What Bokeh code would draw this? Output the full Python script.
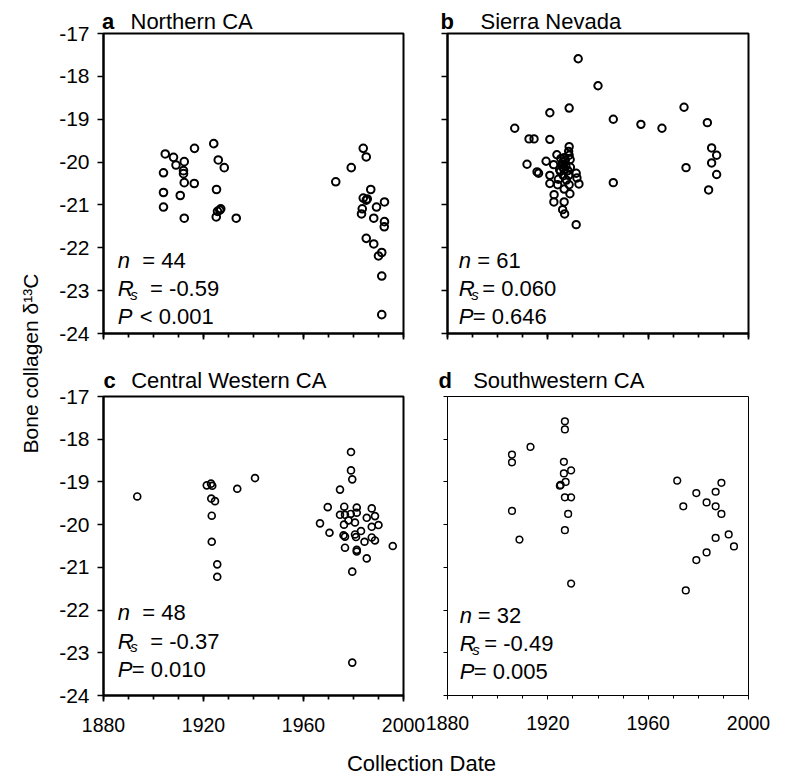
from math import pi
from bokeh.plotting import figure
from bokeh.models import (Range1d, SingleIntervalTicker, Label, PrintfTickFormatter,
                          CustomLabelingPolicy)
from bokeh.layouts import row, column
from bokeh.embed import file_html
from bokeh.resources import INLINE
from bokeh.core.properties import value

FONT = "Liberation Sans"

# ---------------- data ----------------
x_start, x_end = 1880, 2000
y_low, y_high = -24, -17

panel_letters = ["a", "b", "c", "d"]
panel_names = ["Northern CA", "Sierra Nevada", "Central Western CA", "Southwestern CA"]

stat_n = ["44", "61", "48", "32"]
stat_rs = ["-0.59", "0.060", "-0.37", "-0.49"]
stat_p_op = ["<", "=", "=", "="]
stat_p = ["0.001", "0.646", "0.010", "0.005"]

a_year = [1904.7, 1908.0, 1909.0, 1912.3, 1904.0, 1912.0, 1912.3, 1916.4, 1916.3, 1904.0,
          1910.7, 1904.0, 1912.3, 1924.1, 1925.9, 1928.3, 1925.2, 1926.9, 1925.6, 1925.1,
          1933.1, 1972.9, 1979.1, 1983.9, 1985.1, 1986.9, 1983.9, 1985.1, 1983.5, 1983.2,
          1989.2, 1992.4, 1988.1, 1992.4, 1992.3, 1985.1, 1988.1, 1991.3, 1990.0, 1991.3,
          1991.3, 1912.0, 1985.5, 1926.5]
a_d13c = [-19.81, -19.89, -20.07, -19.99, -20.25, -20.27, -20.48, -19.68, -20.50, -20.71,
          -20.78, -21.05, -21.31, -19.57, -19.95, -20.13, -20.64, -21.09, -21.15, -21.28,
          -21.31, -20.46, -20.13, -19.68, -19.88, -20.64, -20.84, -20.89, -21.09, -21.21,
          -21.05, -20.93, -21.31, -21.39, -21.51, -21.78, -21.91, -22.11, -22.19, -22.66,
          -23.56, -20.20, -20.86, -21.12]

b_year = [1932.1, 1940.0, 1928.5, 1920.8, 1906.8, 1946.1, 1957.1, 1965.5, 1974.3, 1983.6,
          1912.5, 1914.5, 1920.8, 1928.5, 1928.3, 1923.6, 1928.5, 1926.5, 1928.9, 1919.3,
          1922.3, 1925.6, 1911.7, 1924.7, 1926.5, 1915.7, 1916.3, 1931.3, 1920.8, 1928.3,
          1931.6, 1920.8, 1923.9, 1928.5, 1932.4, 1926.5, 1922.5, 1928.8, 1922.4, 1926.5,
          1925.9, 1926.7, 1931.3, 1946.1, 1975.1, 1985.3, 1987.3, 1985.3, 1987.3, 1984.1,
          1926.0, 1927.2, 1925.0, 1927.0, 1928.0, 1926.2, 1925.2, 1927.4, 1929.0, 1924.2,
          1926.0]
b_d13c = [-17.59, -18.22, -18.74, -18.85, -19.21, -19.00, -19.12, -19.21, -18.72, -19.08,
          -19.46, -19.46, -19.47, -19.64, -19.75, -19.83, -19.84, -19.90, -19.94, -19.98,
          -20.06, -20.06, -20.05, -20.18, -20.18, -20.23, -20.26, -20.26, -20.31, -20.31,
          -20.37, -20.50, -20.53, -20.53, -20.51, -20.63, -20.76, -20.74, -20.93, -20.93,
          -21.11, -21.21, -21.46, -20.48, -20.13, -19.67, -19.84, -20.02, -20.29, -20.65,
          -20.00, -20.10, -20.22, -19.95, -20.20, -20.32, -19.92, -20.42, -20.12, -20.40,
          -20.12]

c_year = [1893.5, 1921.3, 1923.0, 1923.5, 1923.1, 1924.6, 1923.3, 1923.3, 1925.5, 1925.5,
          1933.5, 1940.6, 1979.0, 1979.0, 1979.5, 1974.6, 1969.7, 1976.3, 1981.3, 1987.3,
          1974.6, 1976.6, 1978.9, 1981.3, 1985.3, 1988.6, 1976.2, 1980.6, 1987.3, 1990.0,
          1966.6, 1970.4, 1976.0, 1980.6, 1981.0, 1976.6, 1984.4, 1987.3, 1988.6, 1976.6,
          1981.3, 1981.3, 1985.3, 1995.7, 1979.5, 1979.5, 1978.0, 1983.0]
c_d13c = [-19.34, -19.08, -19.04, -19.09, -19.39, -19.45, -19.79, -20.40, -20.93, -21.22,
          -19.16, -18.91, -18.30, -18.73, -18.94, -19.18, -19.59, -19.58, -19.60, -19.62,
          -19.77, -19.77, -19.75, -19.72, -19.84, -19.80, -20.00, -19.95, -20.05, -20.01,
          -19.97, -20.19, -20.25, -20.23, -20.29, -20.28, -20.40, -20.30, -20.37, -20.54,
          -20.59, -20.63, -20.79, -20.50, -21.10, -23.23, -19.90, -20.15]

d_year = [1905.7, 1905.7, 1913.1, 1905.7, 1908.7, 1926.8, 1926.8, 1926.4, 1926.4, 1929.3,
          1925.1, 1927.1, 1924.8, 1926.8, 1929.3, 1928.1, 1926.8, 1929.3, 1971.6, 1974.0,
          1979.2, 1983.3, 1986.9, 1989.2, 1986.9, 1989.2, 1986.9, 1983.3, 1979.2, 1975.0,
          1992.1, 1994.2]
d_d13c = [-18.36, -18.54, -18.18, -19.68, -20.35, -17.58, -17.77, -18.53, -18.80, -18.73,
          -19.07, -19.00, -19.09, -19.36, -19.36, -19.75, -20.13, -21.38, -18.97, -19.57,
          -19.26, -19.48, -19.23, -19.02, -19.57, -19.75, -20.31, -20.65, -20.83, -21.54,
          -20.23, -20.51]

# ---------------- layout / style ----------------
YLAB_W = 48
INNER_W = 724
MID = 0.32  # vertical centre of a line of text above its baseline, in em
specs = [
    dict(bl=55, fw=300, br=20, bt=33, fh=300, bb=15, lw=2.0, tw=1.7, mto=6, nto=4,
         msize=7.6, mlw=2.0, ylab=True, xlab=False, tt=(-1.5, 27.0, 5.0),
         st=dict(x=14.3, n=66.3, r=38, p=9.7, neq=24.5, req=32.3, peq=22)),
    dict(bl=24, fw=301, br=24, bt=33, fh=300, bb=15, lw=2.0, tw=1.7, mto=6, nto=4,
         msize=7.4, mlw=2.0, ylab=False, xlab=False, tt=(-7.0, 33.0, 5.0),
         st=dict(x=11.3, n=66.3, r=38, p=9.7, neq=18.5, req=23.5, peq=14)),
    dict(bl=55, fw=300, br=22, bt=48, fh=299, bb=47, lw=2.0, tw=1.7, mto=6, nto=4,
         msize=6.9, mlw=1.7, ylab=True, xlab=True, tt=(0.0, 27.7, 9.3),
         st=dict(x=14.3, n=75.7, r=47.3, p=19, neq=24.4, req=32.5, peq=14)),
    dict(bl=22, fw=301, br=24, bt=48, fh=299, bb=47, lw=1.0, tw=1.0, mto=4, nto=3,
         msize=6.7, mlw=1.5, ylab=False, xlab=True, tt=(-9.0, 25.7, 8.7),
         st=dict(x=12.3, n=73.3, r=45, p=17, neq=18, req=24.5, peq=14)),
]

HIDE_LABELS = "for (const i of indices) indices.unset(i)"


def make_label(text, x, y, dx, base_dy, size=22, style="normal"):
    # base_dy is the wanted baseline height; the label is placed by its middle
    return Label(x=x, y=y, x_offset=dx, y_offset=base_dy + MID * size, text=text,
                 text_font=FONT, text_font_size=f"{size}px", text_font_style=style,
                 text_color="black", text_baseline="middle", text_align="left")


def blank_fig(w, h):
    f = figure(width=w, height=h, x_range=Range1d(0, w), y_range=Range1d(0, h),
               x_axis_location=None, y_axis_location=None, min_border=0,
               output_backend="svg", toolbar_location=None, title=None,
               sizing_mode="fixed")
    f.xgrid.visible = False
    f.ygrid.visible = False
    f.outline_line_color = None
    return f


def make_panel(i, years, vals):
    s = specs[i]
    w = s["bl"] + s["fw"] + s["br"]
    h = s["bt"] + s["fh"] + s["bb"]
    p = figure(width=w, height=h, sizing_mode="fixed",
               x_range=Range1d(x_start, x_end), y_range=Range1d(y_low, y_high),
               min_border_left=s["bl"], min_border_right=s["br"],
               min_border_top=s["bt"], min_border_bottom=s["bb"],
               output_backend="svg", toolbar_location=None, title=None)
    p.xgrid.visible = False
    p.ygrid.visible = False
    p.outline_line_color = "black"
    p.outline_line_width = s["lw"]
    p.outline_line_alpha = 1.0
    p.xaxis.ticker = SingleIntervalTicker(interval=40, num_minor_ticks=4)
    p.yaxis.ticker = SingleIntervalTicker(interval=1, num_minor_ticks=0)
    for ax in (p.xaxis[0], p.yaxis[0]):
        ax.axis_line_width = s["lw"]
        ax.axis_line_color = "black"
        ax.major_tick_line_width = s["tw"]
        ax.minor_tick_line_width = s["tw"]
        ax.major_tick_line_color = "black"
        ax.minor_tick_line_color = "black"
        ax.major_tick_in = 0
        ax.minor_tick_in = 0
        ax.major_tick_out = s["mto"]
        ax.minor_tick_out = s["nto"]
        ax.major_label_text_font = FONT
        ax.major_label_text_color = "black"
        ax.formatter = PrintfTickFormatter(format="%d")
    if s["ylab"]:
        p.yaxis.major_label_text_font_size = "21px"
        p.yaxis.major_label_standoff = 8
    else:
        p.yaxis.major_label_text_font_size = "0px"
        p.yaxis.major_label_standoff = 0
        p.yaxis.major_label_policy = CustomLabelingPolicy(code=HIDE_LABELS)
    if s["xlab"]:
        p.xaxis.major_label_text_font_size = "19.5px"
        p.xaxis.major_label_standoff = 16
    else:
        p.xaxis.major_label_text_font_size = "0px"
        p.xaxis.major_label_standoff = 0
        p.xaxis.major_label_policy = CustomLabelingPolicy(code=HIDE_LABELS)

    p.scatter(years, vals, marker="circle", size=s["msize"], fill_color=None,
              line_color="black", line_width=s["mlw"])

    # panel title above the frame: name in the top panel, letter in the right panel
    lx, nx, ty = s["tt"]
    p.add_layout(make_label(panel_names[i], x_start, y_high, nx, ty), "above")
    p.add_layout(make_label(panel_letters[i], x_start, y_high, lx, ty, 22, "bold"), "right")

    st = s["st"]
    for lbl in [
        make_label("n", x_start, y_low, st["x"], st["n"], 22, "italic"),
        make_label("= " + stat_n[i], x_start, y_low, st["x"] + st["neq"], st["n"]),
        make_label("R", x_start, y_low, st["x"], st["r"], 22, "italic"),
        make_label("s", x_start, y_low, st["x"] + 12.5, st["r"] - 3.3, 15, "italic"),
        make_label("= " + stat_rs[i], x_start, y_low, st["x"] + st["req"], st["r"]),
        make_label("P", x_start, y_low, st["x"], st["p"], 22, "italic"),
        make_label(stat_p_op[i] + " " + stat_p[i], x_start, y_low, st["x"] + st["peq"], st["p"]),
    ]:
        p.add_layout(lbl)
    return p


pa = make_panel(0, a_year, a_d13c)
pb = make_panel(1, b_year, b_d13c)
pc = make_panel(2, c_year, c_d13c)
pd = make_panel(3, d_year, d_d13c)

TOTAL_H = 776
ylab = blank_fig(YLAB_W, TOTAL_H)
ylab.text(x=[30], y=[413], text=["Bone collagen δ¹³C"], angle=pi / 2,
          text_align="center", text_baseline="middle",
          text_font=value(FONT), text_font_size="21px", text_color="black")

footer = blank_fig(INNER_W, 34)
footer.text(x=[373], y=[13], text=["Collection Date"], text_align="center",
            text_baseline="middle", text_font=value(FONT), text_font_size="22px",
            text_color="black")

layout = row(ylab,
             column(row(pa, pb, spacing=0), row(pc, pd, spacing=0), footer, spacing=0),
             spacing=0)

open("out.html", "w").write(file_html(layout, INLINE))
